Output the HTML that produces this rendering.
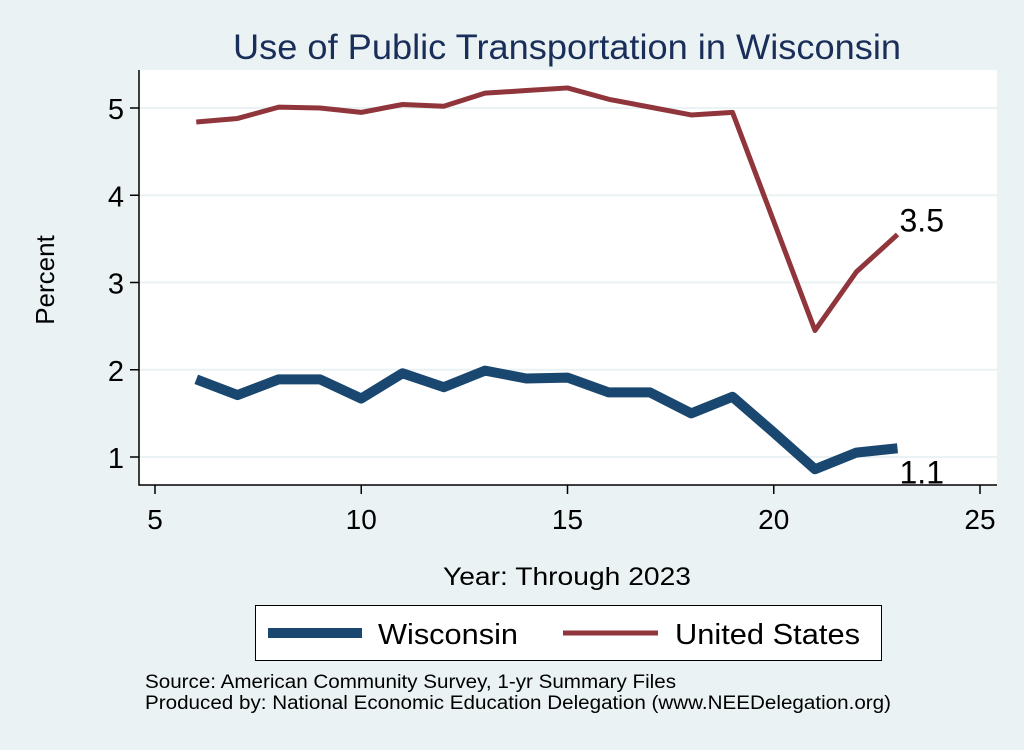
<!DOCTYPE html>
<html><head><meta charset="utf-8"><style>
body{margin:0;background:#eaf2f3;}
svg text{font-family:"Liberation Sans",sans-serif;}
</style></head><body>
<svg width="1024" height="745" viewBox="0 0 1024 745" xmlns="http://www.w3.org/2000/svg">
<rect x="0" y="0" width="1024" height="745" fill="#eaf2f3"/>
<text x="567" y="59" font-size="35" fill="#1a2e5a" text-anchor="middle" textLength="668" lengthAdjust="spacingAndGlyphs">Use of Public Transportation in Wisconsin</text>
<rect x="139" y="70" width="858" height="415" fill="#fff"/>
<g id="grid"></g>
<g id="series"></g>
<g id="axes"></g>
<text x="567" y="585" font-size="25" text-anchor="middle" textLength="248" lengthAdjust="spacingAndGlyphs">Year: Through 2023</text>
<text transform="translate(54,280) rotate(-90)" font-size="26" text-anchor="middle">Percent</text>
<g>
<rect x="255.5" y="605.5" width="626" height="55" fill="#fff" stroke="#000" stroke-width="1"/>
<line x1="268" y1="633" x2="362" y2="633" stroke="#1a476f" stroke-width="10"/>
<text x="378" y="644" font-size="29" textLength="140" lengthAdjust="spacingAndGlyphs">Wisconsin</text>
<line x1="563" y1="633" x2="658" y2="633" stroke="#90353b" stroke-width="5"/>
<text x="675" y="644" font-size="29" textLength="185" lengthAdjust="spacingAndGlyphs">United States</text>
</g>
<text x="145" y="688" font-size="19" textLength="531" lengthAdjust="spacingAndGlyphs">Source: American Community Survey, 1-yr Summary Files</text>
<text x="145" y="709" font-size="19" textLength="746" lengthAdjust="spacingAndGlyphs">Produced by: National Economic Education Delegation (www.NEEDelegation.org)</text>
</svg>
<script>
const years=[6,7,8,9,10,11,12,13,14,15,16,17,18,19,20,21,22,23];
const usValues=[4.84,4.88,5.01,5.00,4.95,5.04,5.02,5.17,5.20,5.23,5.10,5.01,4.92,4.95,3.70,2.45,3.12,3.55];
const wiValues=[1.89,1.71,1.89,1.89,1.67,1.96,1.80,1.99,1.90,1.91,1.74,1.74,1.50,1.69,1.28,0.86,1.05,1.10];
const xTicks=[5,10,15,20,25];
const yTicks=[1,2,3,4,5];
const NS="http://www.w3.org/2000/svg";
function sx(v){return 155+(v-5)*41.25;}
function sy(v){return 457-(v-1)*87.25;}
function mk(tag,attrs,parent){const e=document.createElementNS(NS,tag);for(const k in attrs)e.setAttribute(k,attrs[k]);parent.appendChild(e);return e;}
const grid=document.getElementById('grid'),axes=document.getElementById('axes'),series=document.getElementById('series');
yTicks.forEach(t=>{
 const g=mk('line',{x1:139,x2:997,y1:sy(t),y2:sy(t),stroke:'#eaf2f3','stroke-width':2},grid);
 
 
 const tk=mk('line',{x1:130,x2:139,y1:sy(t),y2:sy(t),stroke:'#000','stroke-width':1.5},axes);
 
 
 const l=mk('text',{x:124,y:sy(t)+11,'font-size':29,'text-anchor':'end'},axes);
 l.textContent=t;
 
 
});
xTicks.forEach(t=>{
 const tk=mk('line',{x1:sx(t),x2:sx(t),y1:485,y2:494,stroke:'#000','stroke-width':1.5},axes);
 
 
 const l=mk('text',{x:sx(t),y:529,'font-size':28,'text-anchor':'middle'},axes);
 l.textContent=t;
 
 
});
const ax=mk('path',{d:'M139,70 V485 H997',fill:'none',stroke:'#000','stroke-width':1.5},axes);


const us=mk('polyline',{points:years.map((y,i)=>sx(y)+','+sy(usValues[i])).join(' '),fill:'none',stroke:'#90353b','stroke-width':5,'stroke-linejoin':'round'},series);


const wi=mk('polyline',{points:years.map((y,i)=>sx(y)+','+sy(wiValues[i])).join(' '),fill:'none',stroke:'#1a476f','stroke-width':10,'stroke-linejoin':'round'},series);


const n=years.length-1;
const ul=mk('text',{x:sx(years[n])+2,y:sy(usValues[n])-3,'font-size':32},series);
ul.textContent=usValues[n].toFixed(1);


const wl=mk('text',{x:sx(years[n])+2,y:sy(wiValues[n])+35,'font-size':32},series);
wl.textContent=wiValues[n].toFixed(1);


</script>
</body></html>
